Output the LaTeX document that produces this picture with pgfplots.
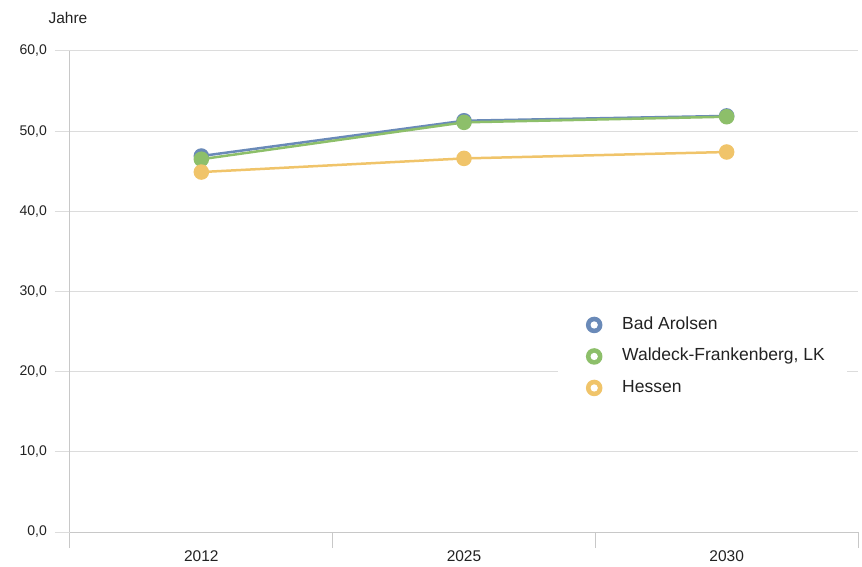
\documentclass[border=0pt]{standalone}
\usepackage{fontspec}
\setmainfont{Liberation Sans}
\usepackage{pgfplots}
\pgfplotsset{compat=1.18}
\definecolor{cBlue}{HTML}{6A8AB8}
\definecolor{cGreen}{HTML}{8DBF6A}
\definecolor{cYellow}{HTML}{F0C46A}
\definecolor{cGrid}{HTML}{DCDCDC}
\definecolor{cAxis}{HTML}{C8C8C8}
\definecolor{cText}{HTML}{222222}
\begin{document}
\begin{tikzpicture}
\useasboundingbox (-70bp,-35bp) rectangle (792bp,532bp);
\begin{axis}[
  at={(0,0)}, anchor=south west,
  scale only axis, width=788bp, height=481bp,
  xmin=-0.5, xmax=2.5, ymin=0, ymax=60,
  axis x line*=bottom, axis y line*=left,
  axis line style={draw=cAxis, line width=1bp, -},
  xtick={0,1,2}, xticklabels={2012,2025,2030},
  minor xtick={-0.5,0.5,1.5,2.5},
  ytick={0,10,...,60},
  tick align=outside,
  major tick length=15bp, minor tick length=16bp,
  major x tick style={draw=none},
  minor x tick style={draw=cAxis, line width=1bp},
  major y tick style={draw=cGrid, line width=1bp},
  ymajorgrids, major grid style={draw=cGrid, line width=1bp},
  /pgf/number format/assume math mode=true,
  yticklabel={\pgfmathprintnumber[fixed, fixed zerofill, precision=1, use comma]{\tick}},
  yticklabel style={font=\fontsize{14bp}{16bp}\selectfont, text=cText, inner xsep=3bp, xshift=-5bp},
  xticklabel style={font=\fontsize{15.5bp}{17bp}\selectfont, text=cText},
  clip=false,
  legend image code/.code={\path[draw=none, fill=none] (0,-7bp) rectangle (62bp,7bp); \fill (36bp,0) circle (7bp); \fill[white] (36bp,0) circle (2.3bp);},
  legend style={at={(488/788,227/481)}, anchor=north west, draw=none, fill=white,
    font=\fontsize{17.5bp}{20bp}\selectfont, text=cText, inner xsep=0bp, inner ysep=4bp,
    nodes={text height=12.5bp, text depth=4bp, inner ysep=7.5bp, inner xsep=2bp}},
  legend cell align=left,
]
\addplot[color=cBlue, line width=2.5bp, mark=*, mark size=6.5bp] coordinates {(0,46.9) (1,51.3) (2,51.9)};
\addlegendentry{Bad Arolsen}
\addplot[color=cGreen, line width=2.5bp, mark=*, mark size=6.5bp] coordinates {(0,46.5) (1,51.1) (2,51.8)};
\addlegendentry{Waldeck-Frankenberg, LK\rule{20bp}{0bp}}
\addplot[color=cYellow, line width=2.5bp, mark=*, mark size=6.5bp] coordinates {(0,44.9) (1,46.6) (2,47.4)};
\addlegendentry{Hessen}
\end{axis}
\node[anchor=base west, font=\fontsize{15.5bp}{17bp}\selectfont, text=cText] at (-25bp,508bp) {Jahre};
\end{tikzpicture}
\end{document}
